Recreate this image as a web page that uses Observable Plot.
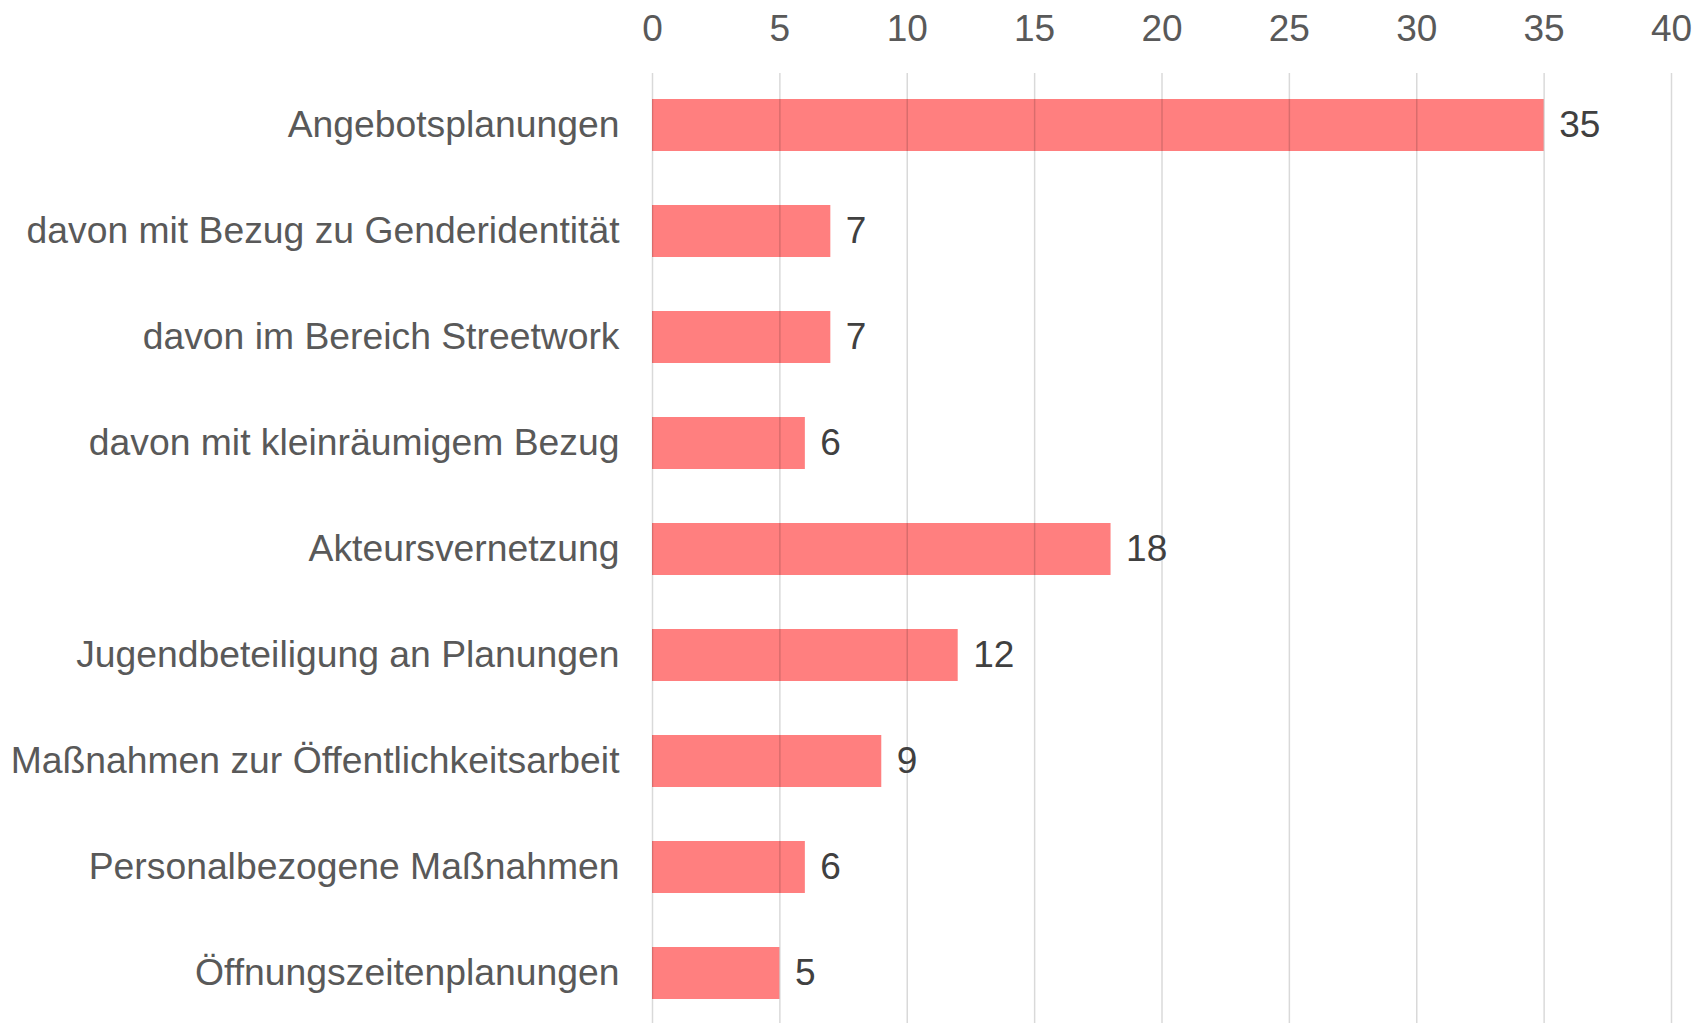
<!DOCTYPE html>
<html>
<head>
<meta charset="utf-8">
<script src="https://cdn.jsdelivr.net/npm/d3@7"></script>
<script src="https://cdn.jsdelivr.net/npm/@observablehq/plot@0.6"></script>
<style>
  html, body { margin: 0; padding: 0; background: #fff; }
  #chart svg { display: block; }
</style>
</head>
<body>
<div id="chart"></div>
<script>
const categories = [
  "Angebotsplanungen",
  "davon mit Bezug zu Genderidentität",
  "davon im Bereich Streetwork",
  "davon mit kleinräumigem Bezug",
  "Akteursvernetzung",
  "Jugendbeteiligung an Planungen",
  "Maßnahmen zur Öffentlichkeitsarbeit",
  "Personalbezogene Maßnahmen",
  "Öffnungszeitenplanungen"
];
const values = [35, 7, 7, 6, 18, 12, 9, 6, 5];
const xTicks = [0, 5, 10, 15, 20, 25, 30, 35, 40];

const data = categories.map((c, i) => ({category: c, value: values[i]}));

const chart = Plot.plot({
  width: 1707,
  height: 1023,
  marginLeft: 652,
  marginRight: 36,
  marginTop: 73,
  marginBottom: -2,
  style: {fontFamily: "'Liberation Sans', Arial, sans-serif", color: "#595959", background: "#fff"},
  x: {domain: [0, 40]},
  y: {domain: categories, paddingInner: 0.507, paddingOuter: 0.244},
  marks: [
    Plot.barX(data, {x: "value", y: "category", fill: "#ff7f7f"}),
    Plot.ruleX(xTicks, {stroke: "#000", strokeOpacity: 0.15, strokeWidth: 1.5}),
    Plot.text(data, {x: "value", y: "category", text: d => String(d.value), textAnchor: "start", dx: 15, fontSize: 37, fill: "#404040"}),
    Plot.axisX({anchor: "top", ticks: xTicks, tickSize: 0, tickPadding: 33, fontSize: 37, fill: "#595959", label: null}),
    Plot.axisY({tickSize: 0, tickPadding: 33, fontSize: 37.3, fill: "#595959", label: null})
  ]
});
document.getElementById("chart").appendChild(chart);
</script>
</body>
</html>
